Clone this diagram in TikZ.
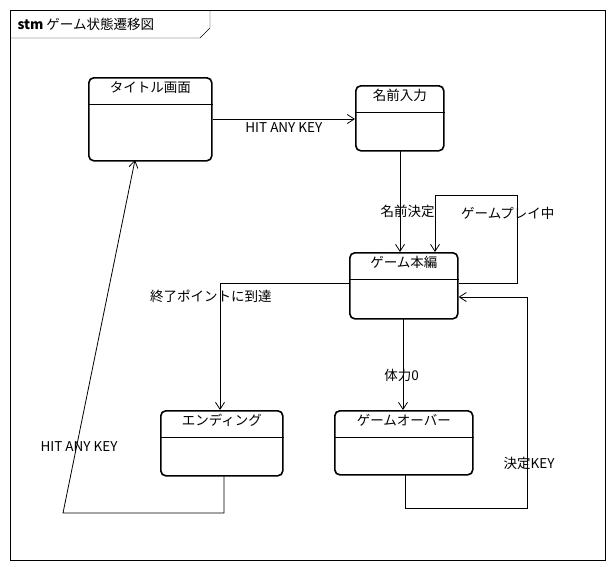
\documentclass[tikz,border=0pt]{standalone}
\usepackage{fontspec}
\setmainfont{Noto Sans CJK JP}
\usetikzlibrary{arrows.meta}
\tikzset{
  stbox/.style={rectangle, draw, line width=1.6pt, rounded corners=5pt, anchor=north west, inner sep=0pt},
  trans/.style={draw, line width=0.8pt, -{Straight Barb[length=7pt,width=9pt]}},
  lbl/.style={font=\fontsize{13.5}{15}\selectfont, inner sep=1pt}
}
\newcommand{\statebox}[6]{%
  \node (#1) [stbox, minimum width=#4pt, minimum height=#5pt] at (#2,#3) {};
  \node (#1-t) [lbl, below=3pt] at (#1.north) {#6};
  \draw ([yshift=-27pt]#1.north west) -- ([yshift=-27pt]#1.north east);
}
\begin{document}
\begin{tikzpicture}[x=1pt,y=-1pt]
  \useasboundingbox (0,0) rectangle (612,566);
  % frame
  \draw (10,10) rectangle (605,560);
  \draw (10,38) -- (200,38) -- (210,28) -- (210,10);
  \node (title) [anchor=west, font=\fontsize{13.5}{15}\selectfont] at (14,24) {\textbf{stm} ゲーム状態遷移図};
  % states
  \statebox{tt}{88}{77}{123}{83}{タイトル画面}
  \statebox{nm}{355}{85}{88}{65}{名前入力}
  \statebox{gm}{349}{252}{108}{66}{ゲーム本編}
  \statebox{ed}{160}{410}{122}{65}{エンディング}
  \statebox{go}{334}{410}{138}{64}{ゲームオーバー}
  % transitions
  \draw [trans] (tt.east |- 0,119) -- (nm.west |- 0,119)
    node [lbl, midway, below=2pt] {HIT ANY KEY};
  \draw [trans] (400,150) -- (400,252)
    node [lbl, pos=0.6, left=-36pt] {名前決定};
  \draw [trans] (gm.east |- 0,283) -- (517,283) -- (517,195) -- (435,195) -- (435,252);
  \node (loop) [lbl, anchor=west] at (460,213) {ゲームプレイ中};
  \draw [trans] (gm.west |- 0,283) -- (220,283) -- (220,410);
  \node (goal) [lbl, anchor=west] at (149,296) {終了ポイントに到達};
  \draw [trans] (403,318) -- (403,410)
    node [lbl, pos=0.62, right=-20pt] {体力0};
  \draw [trans] (405,474) -- (405,508) -- (527,508) -- (527,297) -- (gm.east |- 0,297);
  \node (dec) [lbl] at (529,463) {決定KEY};
  \draw [trans] (224,475) -- (224,513) -- (63,513) -- (135,160);
  \node (hit) [lbl] at (79,447) {HIT ANY KEY};
\end{tikzpicture}
\end{document}
